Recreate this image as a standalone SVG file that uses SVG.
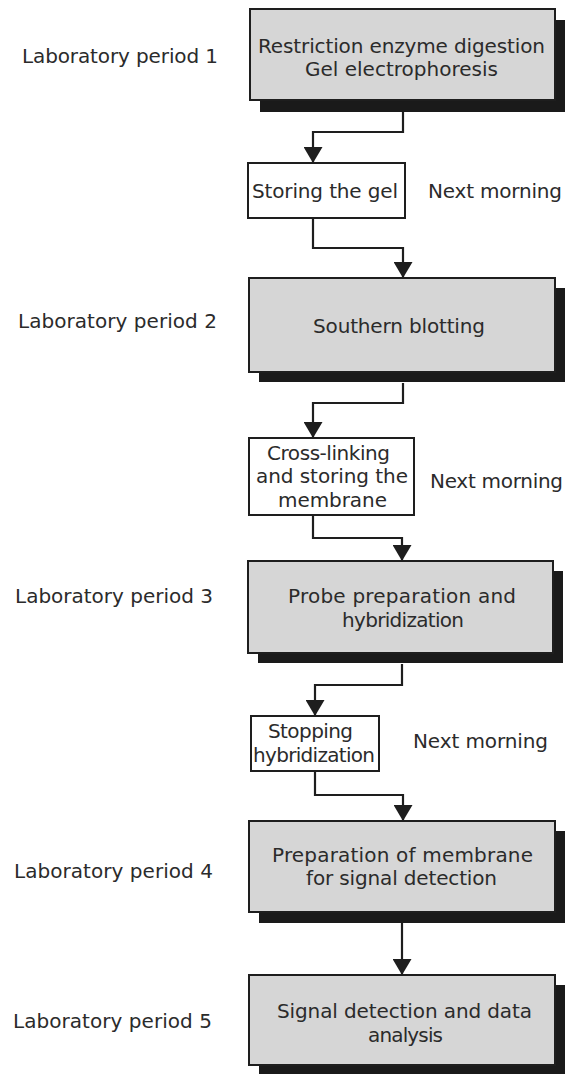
<svg xmlns="http://www.w3.org/2000/svg" width="568" height="1074" viewBox="0 0 568 1074">
<style>
text{font-family:"DejaVu Sans","Liberation Sans",sans-serif;font-size:20px;fill:#2b2b2b}
.c{text-anchor:middle}
.box{fill:#d6d6d6;stroke:#1e1e1e;stroke-width:2}
.sh{fill:#1a1a1a}
.small{fill:#ffffff;stroke:#1e1e1e;stroke-width:2}
.conn{fill:none;stroke:#1e1e1e;stroke-width:2.2;marker-end:url(#ah)}
</style>
<defs>
<marker id="ah" markerWidth="16" markerHeight="19" refX="16" refY="9.5" orient="auto" markerUnits="userSpaceOnUse">
<path d="M0,0 L16,9.5 L0,19 z" fill="#1e1e1e"/>
</marker>
</defs>
<rect width="568" height="1074" fill="#ffffff"/>

<g id="labels">
<text x="22" y="63" textLength="196">Laboratory period 1</text>
<text x="18" y="328" textLength="199">Laboratory period 2</text>
<text x="15" y="603" textLength="198">Laboratory period 3</text>
<text x="14" y="878" textLength="199">Laboratory period 4</text>
<text x="13" y="1028" textLength="199">Laboratory period 5</text>
<text x="428" y="198" textLength="134">Next morning</text>
<text x="430" y="488" textLength="133">Next morning</text>
<text x="413" y="748" textLength="135">Next morning</text>
</g>

<g id="connectors">
<path class="conn" d="M403,101 V132 H313 V163"/>
<path class="conn" d="M313,218 V248 H403 V278"/>
<path class="conn" d="M403,383 V403 H313 V438"/>
<path class="conn" d="M313,515 V538 H402 V561"/>
<path class="conn" d="M402,664 V685 H315 V716"/>
<path class="conn" d="M315,771 V795 H403 V821"/>
<path class="conn" d="M402,923 V975"/>
</g>

<g id="node1">
<rect class="sh" x="260" y="20" width="305" height="92"/>
<rect class="box" x="250" y="9" width="305" height="91"/>
<text class="c" x="401.5" y="53" textLength="287">Restriction enzyme digestion</text>
<text class="c" x="401.5" y="76" textLength="193">Gel electrophoresis</text>
</g>

<g id="node2">
<rect class="small" x="248" y="163" width="157" height="55"/>
<text class="c" x="325" y="198" textLength="146">Storing the gel</text>
</g>

<g id="node3">
<rect class="sh" x="259" y="288" width="306" height="94"/>
<rect class="box" x="249" y="278" width="306" height="94"/>
<text class="c" x="399" y="333" textLength="172">Southern blotting</text>
</g>

<g id="node4">
<rect class="small" x="249" y="438" width="165" height="77"/>
<text class="c" x="328.5" y="460" textLength="123">Cross-linking</text>
<text class="c" x="332" y="483" textLength="152">and storing the</text>
<text class="c" x="332.5" y="507" textLength="109">membrane</text>
</g>

<g id="node5">
<rect class="sh" x="258" y="571" width="305" height="92"/>
<rect class="box" x="248" y="561" width="305" height="92"/>
<text class="c" x="402" y="603" textLength="228">Probe preparation and</text>
<text class="c" x="403" y="627" textLength="122">hybridization</text>
</g>

<g id="node6">
<rect class="small" x="251" y="716" width="128" height="55"/>
<text class="c" x="310.5" y="738" textLength="85">Stopping</text>
<text class="c" x="314" y="762" textLength="122">hybridization</text>
</g>

<g id="node7">
<rect class="sh" x="259" y="831" width="306" height="92"/>
<rect class="box" x="249" y="821" width="306" height="91"/>
<text class="c" x="402.5" y="862" textLength="261">Preparation of membrane</text>
<text class="c" x="401.5" y="885" textLength="191">for signal detection</text>
</g>

<g id="node8">
<rect class="sh" x="259" y="985" width="306" height="92"/>
<rect class="box" x="249" y="975" width="306" height="90"/>
<text class="c" x="404.5" y="1018" textLength="255">Signal detection and data</text>
<text class="c" x="405.5" y="1042" textLength="75">analysis</text>
</g>
</svg>
